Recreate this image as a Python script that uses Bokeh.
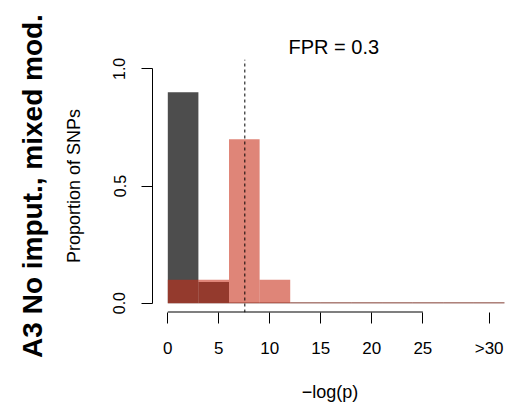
import math
from bokeh.plotting import figure
from bokeh.models import Range1d, FixedTicker, Title, ColumnDataSource
from bokeh.embed import file_html
from bokeh.resources import INLINE

# ---- data ----
bin_left = [0, 3, 6, 9, 12, 15, 18, 21, 24, 27, 30]
bin_right = [3, 6, 9, 12, 15, 18, 21, 24, 27, 30, 33]
gray_prop = [0.90, 0.09, 0.003, 0.003, 0.003, 0.003, 0.003, 0.003, 0.003, 0.003, 0.003]
red_prop = [0.10, 0.10, 0.70, 0.10, 0.003, 0.003, 0.003, 0.003, 0.003, 0.003, 0.003]
threshold = [7.55]
x_ticks = [0, 5, 10, 15, 20, 25, 31.5]
x_tick_labels = ["0", "5", "10", "15", "20", "25", ">30"]
y_ticks = [0, 0.5, 1.0]
y_tick_labels = ["0.0", "0.5", "1.0"]
title_text = "A3 No imput., mixed mod."
subtitle_text = "FPR = 0.3"
xlab = "\u2212log(p)"
ylab = "Proportion of SNPs"

FONT = "Liberation Sans"

p = figure(width=507, height=406, output_backend="svg", toolbar_location=None,
           x_range=Range1d(-1.5, 33.3), y_range=Range1d(-0.04, 1.04),
           min_border_left=152, min_border_right=0, min_border_top=59, min_border_bottom=94,
           title=None)
p.outline_line_color = None
p.xgrid.visible = False
p.ygrid.visible = False
p.background_fill_color = "white"
p.border_fill_color = "white"

src_g = ColumnDataSource(dict(left=bin_left, right=bin_right, top=gray_prop, bottom=[0]*len(bin_left)))
src_r = ColumnDataSource(dict(left=bin_left, right=bin_right, top=red_prop, bottom=[0]*len(bin_left)))
p.quad(left="left", right="right", top="top", bottom="bottom", source=src_g,
       fill_color="#4D4D4D", line_color=None)
p.quad(left="left", right="right", top="top", bottom="bottom", source=src_r,
       fill_color=(200, 45, 22), fill_alpha=0.58, line_color=None)

# threshold dashed line spanning the plot region
p.segment(x0=threshold, y0=[-0.04], x1=threshold, y1=[1.04],
          line_color="black", line_width=1, line_dash="3 3")

# x axis (line drawn only over the numeric ticks, at the bottom edge of the region)
xa = p.xaxis[0]
xa.bounds = (0, 31.5)
xa.ticker = FixedTicker(ticks=x_ticks)
xa.major_label_overrides = {t: l for t, l in zip(x_ticks, x_tick_labels)}
xa.axis_line_color = None
xa.major_tick_out = 11
xa.major_tick_in = 0
xa.minor_tick_line_color = None
xa.major_tick_line_color = "black"
xa.major_label_text_font = FONT
xa.major_label_text_font_size = "17px"
xa.major_label_text_color = "black"
xa.major_label_standoff = 15
xa.axis_label = xlab
xa.axis_label_text_font = FONT
xa.axis_label_text_font_size = "18px"
xa.axis_label_text_font_style = "normal"
xa.axis_label_text_color = "black"
xa.axis_label_standoff = 21
p.segment(x0=[x_ticks[0]], y0=[-0.04], x1=[x_ticks[-2]], y1=[-0.04], line_color="black", line_width=2)

# y axis
ya = p.yaxis[0]
ya.bounds = (0, 1)
ya.ticker = FixedTicker(ticks=y_ticks)
ya.major_label_overrides = {t: l for t, l in zip(y_ticks, y_tick_labels)}
ya.major_label_orientation = "vertical"
ya.axis_line_color = "black"
ya.major_tick_out = 11
ya.major_tick_in = 0
ya.minor_tick_line_color = None
ya.major_tick_line_color = "black"
ya.major_label_text_font = FONT
ya.major_label_text_font_size = "16px"
ya.major_label_text_color = "black"
ya.major_label_standoff = 16
ya.axis_label = ylab
ya.axis_label_text_font = FONT
ya.axis_label_text_font_size = "18px"
ya.axis_label_text_font_style = "normal"
ya.axis_label_text_color = "black"
ya.axis_label_standoff = 27

p.add_layout(Title(text=subtitle_text, align="left", offset=136, standoff=4,
                   text_font=FONT, text_font_size="20px", text_font_style="normal",
                   text_color="black"), "above")
p.add_layout(Title(text=title_text, align="center", offset=-1.5, standoff=25,
                   text_font=FONT, text_font_size="28px", text_font_style="bold",
                   text_color="black"), "left")

open("out.html", "w").write(file_html(p, INLINE))
